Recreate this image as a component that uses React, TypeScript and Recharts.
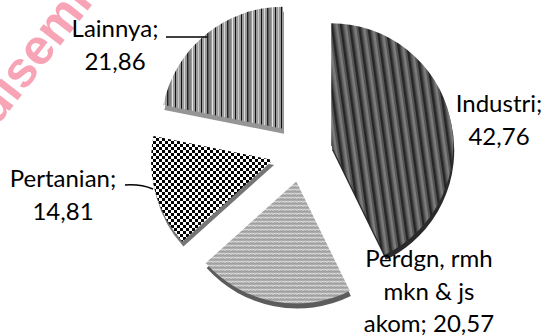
import { PieChart, Pie, Cell } from 'recharts'

const categories = ['Industri', 'Perdgn, rmh mkn & js akom', 'Pertanian', 'Lainnya']
const shares = [42.76, 20.57, 14.81, 21.86]

const fills = ['url(#p-industri)', 'url(#p-dagang)', 'url(#p-tani)', 'url(#p-lain)']
const edgeShades = ['#2a2a2a', '#5c5c5c', '#767676', '#959595']

// where each data label sits (text centre x, first baseline y) and its leader line
const labelAt = [
  { x: 499, y: 112 },
  { x: 429, y: 267 },
  { x: 63, y: 187 },
  { x: 115, y: 37 },
]
const leaders = [null, null, 'M125 185 Q141 184 153 189', 'M166 37 H207']

const data = categories.map((name, i) => ({ name, value: shares[i] }))
const total = shares.reduce((a, b) => a + b, 0)

const W = 546
const H = 336
const CX = 302
const CY = 152
const R = 122
const EXPLODE = 30
const LINE_H = 32.5

// slice centre angle in recharts degrees (counter-clockwise from 3 o'clock)
const midAngle = (i: number) => {
  const before = shares.slice(0, i).reduce((a, b) => a + b, 0)
  return 90 - (360 * (before + shares[i] / 2)) / total
}

const explodeOffset = (i: number) => {
  const a = (midAngle(i) * Math.PI) / 180
  return { x: EXPLODE * Math.cos(a), y: -EXPLODE * Math.sin(a) }
}

const fmt = (v: number) => v.toFixed(2).replace('.', ',')

// greedy word wrap, Excel style
const wrap = (text: string, max: number) => {
  const lines: string[] = []
  let cur = ''
  text.split(' ').forEach(w => {
    const next = cur ? cur + ' ' + w : w
    if (next.length > max && cur) {
      lines.push(cur)
      cur = w
    } else cur = next
  })
  if (cur) lines.push(cur)
  return lines
}

const renderLabel = (i: number) => {
  const lines = wrap(`${categories[i]}; ${fmt(shares[i])}`, 11)
  const pos = labelAt[i]
  return (
    <g key={`lbl-${i}`}>
      {leaders[i] && <path d={leaders[i] as string} stroke="#000" strokeWidth={1.5} fill="none" />}
      <text
        x={pos.x}
        y={pos.y}
        textAnchor="middle"
        fontFamily="Lato, 'Open Sans', sans-serif"
        fontSize={24}
        fill="#000"
      >
        {lines.map((l, k) => (
          <tspan key={k} x={pos.x} dy={k === 0 ? 0 : LINE_H}>{l}</tspan>
        ))}
      </text>
    </g>
  )
}

export default function App() {
  return (
    <div style={{ position: 'absolute', left: 0, top: 0, width: W, height: H, background: '#fff' }}>
      <PieChart width={W} height={H} margin={{ top: 0, right: 0, bottom: 0, left: 0 }}>
        <defs>
          <pattern id="p-industri" width="9" height="9" patternUnits="userSpaceOnUse" patternTransform="rotate(-8)">
            <rect width="9" height="9" fill="#565656" />
            <rect x="0" width="2.5" height="9" fill="#262626" />
            <rect x="4.5" width="2.5" height="9" fill="#7c7c7c" />
          </pattern>
          <pattern id="p-lain" width="20" height="4" patternUnits="userSpaceOnUse">
            <rect width="20" height="4" fill="#9a9a9a" />
            <rect x="1" width="1" height="4" fill="#111" />
            <rect x="4" width="1" height="4" fill="#d8d8d8" />
            <rect x="7" width="1.5" height="4" fill="#222" />
            <rect x="9.5" width="1" height="4" fill="#666" />
            <rect x="12" width="1" height="4" fill="#e6e6e6" />
            <rect x="15" width="1" height="4" fill="#111" />
            <rect x="18" width="1" height="4" fill="#c8c8c8" />
          </pattern>
          <pattern id="p-tani" width="6" height="6" patternUnits="userSpaceOnUse">
            <rect width="6" height="6" fill="#fff" />
            <rect x="0" y="0" width="3" height="3" fill="#000" />
            <rect x="3" y="3" width="3" height="3" fill="#000" />
          </pattern>
          <pattern id="p-dagang" width="6" height="4" patternUnits="userSpaceOnUse">
            <rect width="6" height="4" fill="#adadad" />
            <path d="M0 2.5 L1.5 1 L3 2.5 L4.5 1 L6 2.5" stroke="#f2f2f2" strokeWidth="0.9" fill="none" />
            <path d="M0 4 L1.5 3 L3 4 L4.5 3 L6 4" stroke="#8e8e8e" strokeWidth="0.6" fill="none" />
          </pattern>
        </defs>

        {/* watermark */}
        <g
          transform="translate(24 92) rotate(-52)"
          fontFamily="'Liberation Sans', Arial, sans-serif"
          fontWeight="bold"
          fontSize={50}
          fill="#f7a4b7"
        >
          <text x={0} y={0} textAnchor="end">di</text>
          <text x={0} y={0}>seminasi</text>
        </g>

        {/* lower edge shading, one exploded slice per layer */}
        {shares.map((_, i) => {
          const o = explodeOffset(i)
          return (
            <Pie
              key={`edge-${i}`}
              data={data}
              dataKey="value"
              nameKey="name"
              cx={CX + o.x + 1}
              cy={CY + o.y + 5}
              outerRadius={R}
              startAngle={90}
              endAngle={-270}
              stroke="none"
              isAnimationActive={false}
            >
              {data.map((_, j) => (
                <Cell key={j} fill={j === i ? edgeShades[i] : 'none'} />
              ))}
            </Pie>
          )
        })}

        {shares.map((_, i) => {
          const o = explodeOffset(i)
          return (
            <Pie
              key={`slice-${i}`}
              data={data}
              dataKey="value"
              nameKey="name"
              cx={CX + o.x}
              cy={CY + o.y}
              outerRadius={R}
              startAngle={90}
              endAngle={-270}
              stroke="none"
              isAnimationActive={false}
              labelLine={false}
              label={(p: any) => (p.index === i ? renderLabel(i) : null)}
            >
              {data.map((_, j) => (
                <Cell key={j} fill={j === i ? fills[i] : 'none'} />
              ))}
            </Pie>
          )
        })}
      </PieChart>
    </div>
  )
}
